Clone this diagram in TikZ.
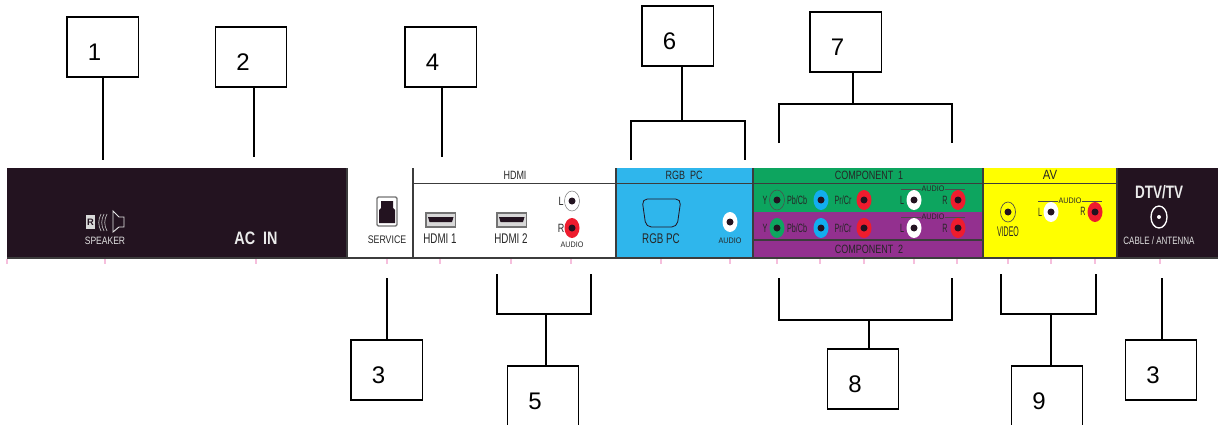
\documentclass[tikz,border=0pt]{standalone}
\usepackage{fontspec}
\setmainfont{Liberation Sans}

\definecolor{paneldark}{HTML}{231320}
\definecolor{panelblue}{HTML}{2FB6EC}
\definecolor{panelgreen}{HTML}{0DA55F}
\definecolor{panelpurple}{HTML}{93308F}
\definecolor{panelyellow}{HTML}{FFFF00}
\definecolor{panelline}{HTML}{3C3C3C}
\definecolor{jackred}{HTML}{EE1C2E}
\definecolor{jackblue}{HTML}{12AEEF}
\definecolor{tickpink}{HTML}{F6BFDD}

\tikzset{
	numbox/.style={draw=black, line width=1pt, minimum width=53.5pt, minimum height=45pt, inner sep=0pt},
	numtext/.style={font=\fontsize{18}{18}\selectfont},
	lead/.style={black, line width=1pt},
	lbl/.style={font=\fontsize{9}{9}\selectfont, text=black!85, inner sep=0pt, xscale=#1, transform shape},
	lbl/.default=.75,
	lblthin/.style={lbl=.6, font=\fontsize{9}{9}\selectfont},
	lbltiny/.style={lbl=.9, font=\fontsize{6}{6}\selectfont},
	lblmid/.style={lbl=.7, font=\fontsize{10.5}{10.5}\selectfont},
	lblwhite/.style={lbl=#1, font=\fontsize{8}{8}\selectfont, text=white!88!black},
	lblwhite/.default=.75,
	lblbig/.style={lbl=#1, font=\fontsize{13.5}{13.5}\selectfont\bfseries, text=white!92!black},
	divider/.style={panelline, line width=1.1pt},
}

\begin{document}
\begin{tikzpicture}[x=0.75pt, y=-0.75pt]
	\useasboundingbox (0,0) rectangle (1218,425);

	% panel
	\fill [paneldark] (7,168) rectangle (347,257);
	\fill [panelblue] (616,168) rectangle (753,257);
	\fill [panelgreen] (753,168) rectangle (983,212);
	\fill [panelpurple] (753,212) rectangle (983,257);
	\fill [panelyellow] (983,168) rectangle (1117,257);
	\fill [paneldark] (1117,168) rectangle (1218,257);

	\draw [divider] (413,183.5) -- (1117,183.5);
	\draw [divider] (753,240) -- (983,240);
	\draw [divider, line width=1.5pt] (7,257.5) -- (1218,257.5);
	\foreach \x in {347,413,616,753,983,1117}
		\draw [divider] (\x,168) -- (\x,257);

	\foreach \x in {7,105,256,387,440,511,571,661,730,777,820,864,914,957,1008,1051,1095,1160}
		\draw [tickpink, line width=.8pt] (\x,259) -- (\x,264);

	% jacks
	\foreach \x/\y/\c in {572/201/white, 572/228/jackred, 730/222/white,
			777/200/panelgreen, 821/200/jackblue, 864/200/jackred, 914/200/white, 958/200/jackred,
			777/228/panelgreen, 821/228/jackblue, 864/228/jackred, 914/228/white, 958/228/jackred,
			1008/212/panelyellow, 1051/212/white, 1095/212/jackred} {
		\fill [\c] (\x,\y) ellipse [x radius=7.5, y radius=10];
		\fill [paneldark] (\x,\y) circle [radius=3.5];
	}
	\draw [black!70, line width=.4pt] (777,200) ellipse [x radius=7.5, y radius=10];
	\draw [black!50, line width=.4pt] (572,201) ellipse [x radius=7.5, y radius=10];
	\draw [black!70, line width=.5pt] (1008,212) ellipse [x radius=7.5, y radius=10];
	\draw [white, line width=1pt] (1159,217) ellipse [x radius=8, y radius=11];
	\fill [white] (1159,217) circle [radius=2];

	% speaker
	\fill [white!85!black] (86,215) rectangle (95,229);
	\node [lbl=1, font=\fontsize{7}{7}\selectfont\bfseries, text=paneldark] (speakerR) at (90.5,222) {R};
	\foreach \x in {99,102,105}
		\draw [white!75!black, line width=.5pt] (\x+2,214) .. controls (\x-1,220) and (\x-1,225) .. (\x+2,231);
	\draw [white!90!black, line width=.7pt] (113,211) -- (119,217) -- (124,217) -- (124,227) -- (119,227) -- (113,232) -- cycle;

	% service and hdmi ports
	\draw [black!55, fill=white, line width=1pt, rounded corners=1pt] (377,197) rectangle (397,226);
	\fill [paneldark] (381,201) -- (393,201) -- (393,208) -- (395,210) -- (395,223) -- (379,223) -- (379,210) -- (381,208) -- cycle;
	\foreach \x in {426,497} {
		\draw [black!55, fill=black!15, line width=.8pt] (\x,213) rectangle (\x+29.5,227);
		\fill [paneldark] (\x+2,217) -- (\x+27.5,217) -- (\x+26,222) -- (\x+3.5,222) -- cycle;
	}

	% vga
	\draw [paneldark, line width=.6pt, rounded corners=4pt] (642,199) -- (681,199) -- (677,227) -- (646,227) -- cycle;

	% texts
	\node [lblwhite=.8] (speakertext) at (105,241) {SPEAKER};
	\node [lblbig=.8] (acin) at (256,238) {AC\ \ IN};
	\node [lbl=.8, font=\fontsize{8.25}{8.25}\selectfont] (service) at (387,240) {SERVICE};

	\node [lbl] (hdmihead) at (515,175) {HDMI};
	\node [lblmid] (hdmione) at (440,239) {HDMI 1};
	\node [lblmid] (hdmitwo) at (511,239) {HDMI 2};
	\node [lbl] (hdmil) at (561,201) {L};
	\node [lbl] (hdmir) at (561,228) {R};
	\node [lbltiny] (hdmiaudio) at (572,245) {AUDIO};

	\node [lbl] (rgbhead) at (684,175) {RGB\ \ PC};
	\node [lblmid] (rgbtext) at (661,239) {RGB PC};
	\node [lbltiny] (rgbaudio) at (730,241) {AUDIO};

	\node [lbl] (comphead) at (869,175) {COMPONENT\ \ 1};
	\node [lbl] (compfoot) at (869,249) {COMPONENT\ \ 2};
	\foreach \y/\n in {200/a, 228/b} {
		\node [lblthin] (compy\n) at (765,\y) {Y};
		\node [lblthin] (comppb\n) at (797,\y) {Pb/Cb};
		\node [lblthin] (comppr\n) at (843,\y) {Pr/Cr};
		\node [lblthin] (compl\n) at (902,\y) {L};
		\node [lblthin] (compr\n) at (945,\y) {R};
	}
	\foreach \y/\n in {189/a, 217/b} {
		\node [lbltiny] (compaudio\n) at (933,\y) {AUDIO};
		\draw [black!70, line width=.3pt] (901,\y) -- (compaudio\n.west);
		\draw [black!70, line width=.3pt] (compaudio\n.east) -- (965,\y);
	}

	\node [lbl=.85, font=\fontsize{10}{10}\selectfont] (avhead) at (1050,175) {AV};
	\node [lbl=.5, font=\fontsize{10.5}{10.5}\selectfont] (video) at (1008,232) {VIDEO};
	\node [lblthin] (avl) at (1040,212) {L};
	\node [lblthin] (avr) at (1083,211) {R};
	\node [lbltiny] (avaudio) at (1070,201) {AUDIO};
	\draw [black!70, line width=.3pt] (1038,201) -- (avaudio.west);
	\draw [black!70, line width=.3pt] (avaudio.east) -- (1102,201);

	\node [lblbig=.75] (dtv) at (1159,192) {DTV/TV};
	\node [lblwhite] (cable) at (1159,241) {CABLE / ANTENNA};

	% numbered boxes
	\foreach \name/\x/\y/\num in {boxa/102.5/47/1, boxb/251/57/2, boxc/386.5/370/3, boxd/440.5/57/4,
			boxe/543/396/5, boxf/677.5/36/6, boxg/845.5/42/7, boxh/863/379/8, boxi/1047/396/9, boxj/1161/370/3} {
		\node [numbox] (\name) at (\x,\y) {};
		\node [numtext, xshift=-6pt, yshift=-3.75pt] (\name num) at (\name) {\num};
	}

	% leads
	\coordinate (enda) at (103,160);
	\coordinate (endb) at (254,157);
	\coordinate (endc) at (387,278);
	\coordinate (endd) at (442,157);
	\coordinate (endj) at (1162,278);
	\draw [lead] (boxa.south -| enda) -- (enda);
	\draw [lead] (boxb.south -| endb) -- (endb);
	\draw [lead] (boxc.north -| endc) -- (endc);
	\draw [lead] (boxd.south -| endd) -- (endd);
	\draw [lead] (boxj.north -| endj) -- (endj);

	% brackets
	\coordinate (brefl) at (497,274);
	\coordinate (brefr) at (591,274);
	\coordinate (brefm) at (546,314);
	\draw [lead] (brefl) |- (brefm) -| (brefr);
	\draw [lead] (boxe.north -| brefm) -- (brefm);

	\coordinate (brffl) at (631,160);
	\coordinate (brffr) at (745,160);
	\coordinate (brffm) at (682,121);
	\draw [lead] (brffl) |- (brffm) -| (brffr);
	\draw [lead] (boxf.south -| brffm) -- (brffm);

	\coordinate (brgl) at (779,143);
	\coordinate (brgr) at (952,143);
	\coordinate (brgm) at (853,104);
	\draw [lead] (brgl) |- (brgm) -| (brgr);
	\draw [lead] (boxg.south -| brgm) -- (brgm);

	\coordinate (brhl) at (779,278);
	\coordinate (brhr) at (952,278);
	\coordinate (brhm) at (869,320);
	\draw [lead] (brhl) |- (brhm) -| (brhr);
	\draw [lead] (boxh.north -| brhm) -- (brhm);

	\coordinate (bril) at (1001,274);
	\coordinate (brir) at (1096,274);
	\coordinate (brim) at (1051,314);
	\draw [lead] (bril) |- (brim) -| (brir);
	\draw [lead] (boxi.north -| brim) -- (brim);
\end{tikzpicture}
\end{document}
